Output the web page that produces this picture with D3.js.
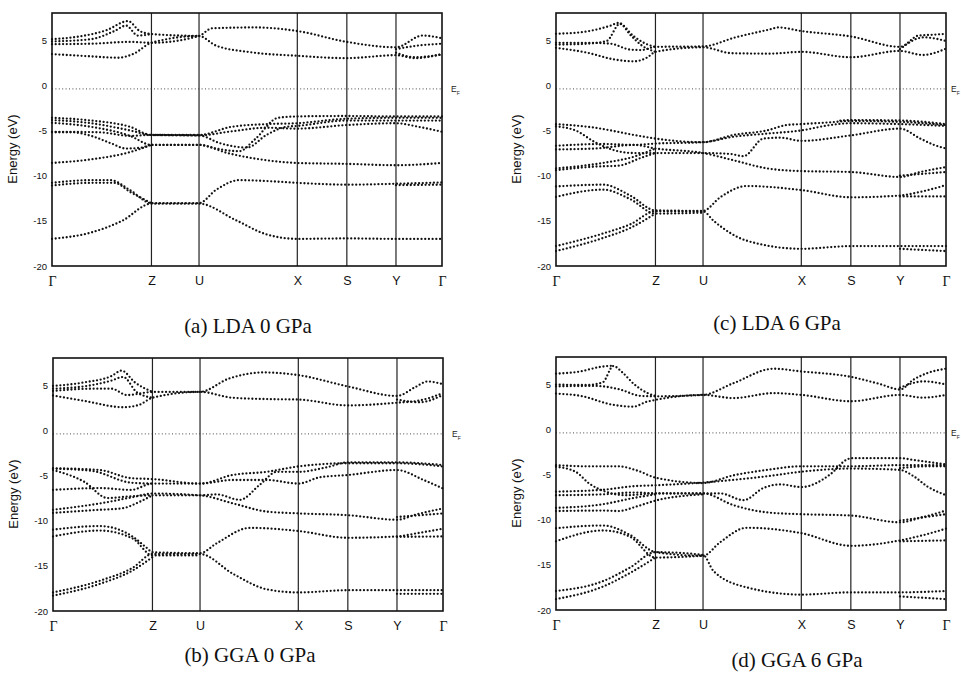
<!DOCTYPE html>
<html>
<head>
<meta charset="utf-8">
<script src="https://cdn.jsdelivr.net/npm/d3@7"></script>
<style>
body { margin: 0; background: #fff; }
svg { display: block; }
</style>
</head>
<body>
<svg id="fig" width="961" height="673"></svg>
<script>
// k-path and energy axis
let kLabels = ['Γ', 'Z', 'U', 'X', 'S', 'Y', 'Γ'];
let kPos = [0, 0.255, 0.377, 0.629, 0.756, 0.882, 1];
let energyTicks = [5, 0, -5, -10, -15, -20];
let energyRange = [-20, 8];
let fermiLevel = -0.4;
let panelTitles = ['(a) LDA 0 GPa', '(b) GGA 0 GPa', '(c) LDA 6 GPa', '(d) GGA 6 GPa'];

// bands as [k, E]
let bandsLDA0 = [
    [[0,3.45],[.08,3.25],[.17,3.05],[.21,3.5],[.255,4.7],[.377,5.45],[.42,4.4],[.51,3.65],[.629,3.26],[.756,3.0],[.882,3.33],[.93,3.0],[1,3.45]],
    [[0,4.55],[.1,4.6],[.2,4.8],[.255,4.7],[.377,5.45],[.41,6.3],[.52,6.4],[.629,6.0],[.756,4.8],[.882,4.2],[.95,5.5],[1,5.2]],
    [[0,5.1],[.07,5.4],[.14,6.1],[.195,7.1],[.225,6.0],[.255,5.67],[.377,5.45]],
    [[0,4.85],[.1,5.1],[.16,6.0],[.19,6.6],[.22,5.5],[.255,5.67]],
    [[.882,4.0],[.94,4.4],[1,4.6]],
    [[.882,3.6],[.93,3.1],[1,3.4]],
    [[0,-3.6],[.1,-3.9],[.2,-4.6],[.255,-5.5],[.377,-5.5],[.46,-4.6],[.55,-4.3],[.629,-4.2],[.756,-3.7],[.882,-3.6],[1,-3.6]],
    [[0,-3.85],[.1,-4.2],[.2,-5.0],[.255,-5.5],[.377,-5.55],[.46,-5.1],[.55,-4.7],[.629,-4.8],[.756,-4.4],[.882,-4.2],[.94,-4.6],[1,-5.15]],
    [[0,-4.15],[.1,-4.6],[.2,-5.6],[.255,-6.6],[.377,-6.6],[.42,-7.0],[.48,-7.3],[.52,-6.0],[.58,-3.6],[.629,-3.45],[.756,-3.4],[.882,-3.45],[1,-3.45]],
    [[0,-5.2],[.05,-5.2],[.1,-5.6],[.15,-6.4],[.19,-7.0],[.23,-6.9],[.255,-6.6],[.377,-6.6],[.45,-7.5],[.55,-8.3],[.629,-8.6],[.756,-8.7],[.882,-8.85],[1,-8.6]],
    [[0,-8.6],[.1,-8.2],[.2,-7.4],[.255,-6.6]],
    [[0,-5.15],[.12,-5.2],[.2,-5.6],[.255,-5.5],[.377,-5.55],[.43,-6.4],[.5,-6.9],[.55,-5.5],[.6,-4.6],[.629,-4.5],[.756,-3.9],[.882,-3.9],[1,-3.9]],
    [[0,-10.8],[.1,-10.5],[.15,-10.5],[.2,-11.6],[.255,-13.05],[.377,-13.05],[.42,-11.6],[.48,-10.5],[.55,-10.6],[.629,-10.8],[.756,-11.0],[.882,-10.9],[1,-10.75]],
    [[0,-11.1],[.1,-10.8],[.16,-10.8],[.2,-11.8],[.255,-13.05]],
    [[0,-17.0],[.1,-16.3],[.18,-15.0],[.255,-13.1],[.377,-13.1],[.47,-14.9],[.55,-16.5],[.629,-17.0],[.756,-16.95],[.882,-17.0],[1,-17.0]],
    [[.882,-11.05],[1,-11.0]]
];

let bandsGGA0 = [
    [[0,3.85],[.08,3.25],[.18,2.55],[.22,2.8],[.255,3.6],[.377,4.25],[.46,3.6],[.55,3.45],[.629,3.4],[.756,2.75],[.882,3.05],[.94,3.3],[1,4.1]],
    [[0,4.35],[.1,4.6],[.15,4.6],[.19,3.9],[.255,4.24],[.377,4.25],[.45,5.7],[.54,6.4],[.629,6.1],[.756,4.85],[.882,3.8],[.93,4.8],[.96,5.4],[1,5.1]],
    [[0,4.9],[.08,5.3],[.15,6.0],[.176,6.6],[.21,5.3],[.255,4.24]],
    [[0,4.6],[.1,5.0],[.15,5.5],[.18,5.9],[.215,4.2],[.255,3.6]],
    [[.882,3.4],[.94,3.1],[1,3.9]],
    [[0,-4.2],[.12,-4.4],[.2,-5.3],[.255,-5.4],[.377,-5.9],[.46,-4.95],[.548,-4.6],[.629,-4.0],[.756,-3.65],[.882,-3.65],[1,-4.0]],
    [[0,-4.4],[.08,-5.7],[.14,-7.5],[.2,-7.3],[.255,-7.2],[.377,-7.2],[.42,-7.1],[.479,-7.7],[.531,-6.0],[.574,-4.6],[.629,-4.6],[.702,-4.1],[.756,-3.55],[.882,-3.55],[1,-3.85]],
    [[0,-6.6],[.12,-6.4],[.2,-6.6],[.255,-5.9],[.377,-5.9],[.462,-5.5],[.548,-5.5],[.629,-5.9],[.685,-5.2],[.756,-4.95],[.882,-4.4],[.95,-5.5],[1,-6.45]],
    [[0,-8.8],[.12,-8.1],[.205,-7.4],[.255,-7.0],[.377,-7.2],[.462,-8.1],[.548,-9.0],[.629,-9.2],[.756,-9.4],[.882,-9.9],[.933,-9.3],[1,-8.65]],
    [[0,-9.15],[.12,-8.8],[.176,-8.65],[.223,-7.9],[.255,-7.2]],
    [[0,-4.25],[.1,-4.5],[.2,-5.8],[.255,-5.9]],
    [[.882,-9.6],[1,-9.2]],
    [[0,-11.0],[.12,-10.6],[.205,-11.8],[.24,-13.0],[.255,-13.5],[.377,-13.6],[.42,-12.5],[.505,-10.8],[.629,-11.15],[.756,-11.9],[.882,-11.75],[.933,-11.4],[1,-10.9]],
    [[0,-11.75],[.12,-11.1],[.205,-12.0],[.255,-13.85],[.377,-13.85]],
    [[.882,-11.8],[1,-11.75]],
    [[0,-17.95],[.12,-16.65],[.205,-15.2],[.255,-13.7],[.377,-13.7],[.462,-15.9],[.548,-17.6],[.629,-17.95],[.756,-17.7],[.882,-17.7],[1,-17.7]],
    [[0,-18.3],[.12,-17.0],[.205,-15.5],[.255,-14.05]],
    [[.882,-18.1],[1,-18.1]]
];

let bandsLDA6 = [
    [[0,4.15],[.08,3.6],[.15,2.85],[.2,2.65],[.235,3.1],[.255,3.7],[.377,4.2],[.45,3.55],[.55,3.5],[.629,3.7],[.756,3.1],[.882,3.8],[.94,3.35],[1,4.05]],
    [[0,4.7],[.08,4.7],[.14,4.6],[.19,3.95],[.22,3.9],[.255,4.25],[.377,4.3],[.46,5.3],[.55,6.2],[.57,6.4],[.629,6.0],[.756,5.4],[.882,4.25],[.93,5.5],[.97,5.6],[1,5.7]],
    [[0,5.7],[.07,5.9],[.14,6.6],[.16,6.9],[.2,5.4],[.23,4.6],[.255,4.25]],
    [[0,4.5],[.08,4.6],[.13,4.9],[.164,6.8],[.19,5.6],[.22,4.4],[.255,3.7]],
    [[.882,4.0],[.943,5.3],[1,4.9]],
    [[0,-4.3],[.1,-4.7],[.2,-5.5],[.255,-5.9],[.377,-6.3],[.455,-5.5],[.541,-5.0],[.592,-4.4],[.629,-4.3],[.703,-4.1],[.756,-3.95],[.882,-4.05],[1,-4.4]],
    [[0,-4.55],[.05,-5.0],[.1,-6.3],[.15,-7.2],[.2,-7.5],[.255,-7.5],[.377,-7.5],[.447,-7.6],[.481,-7.85],[.532,-5.9],[.575,-5.8],[.629,-6.15],[.756,-5.55],[.882,-4.8],[.934,-5.9],[.969,-6.6],[1,-7.0]],
    [[0,-6.7],[.12,-6.5],[.2,-6.6],[.255,-6.45],[.377,-6.3],[.455,-5.7],[.541,-5.35],[.629,-5.0],[.703,-4.4],[.756,-4.2],[.882,-4.3],[1,-4.5]],
    [[0,-7.1],[.1,-7.0],[.2,-6.6],[.255,-7.0],[.377,-7.5],[.455,-8.3],[.541,-9.2],[.629,-9.5],[.756,-9.6],[.882,-10.15],[.934,-9.6],[1,-9.05]],
    [[0,-9.2],[.12,-8.6],[.2,-7.9],[.255,-7.0]],
    [[0,-9.4],[.1,-9.0],[.16,-8.9],[.22,-8.0],[.255,-7.5]],
    [[.729,-3.9],[.756,-3.85],[.882,-3.9],[1,-4.3]],
    [[.882,-10.0],[1,-9.6]],
    [[0,-11.2],[.121,-11.0],[.19,-12.2],[.255,-13.85],[.377,-13.9],[.421,-12.4],[.489,-11.15],[.629,-11.6],[.756,-12.4],[.882,-12.2],[.934,-11.8],[1,-11.05]],
    [[0,-12.35],[.121,-11.55],[.19,-12.6],[.255,-14.2],[.377,-14.1]],
    [[.882,-12.3],[1,-12.3]],
    [[0,-17.8],[.121,-16.4],[.19,-15.4],[.255,-13.95],[.377,-13.95],[.404,-15.0],[.489,-17.2],[.629,-18.1],[.756,-17.8],[.882,-17.8],[1,-17.8]],
    [[0,-18.35],[.121,-16.9],[.19,-15.8],[.255,-14.2]],
    [[.882,-18.1],[1,-18.35]]
];

let bandsGGA6 = [
    [[0,3.95],[.062,3.7],[.147,2.7],[.198,2.5],[.233,3.05],[.255,3.25],[.377,3.8],[.455,3.45],[.558,4.0],[.629,3.8],[.756,3.1],[.882,3.8],[.94,3.5],[1,3.8]],
    [[0,4.75],[.1,4.8],[.164,4.4],[.216,3.7],[.255,3.65],[.377,3.8],[.455,5.1],[.558,6.7],[.629,6.4],[.756,5.8],[.831,5.0],[.882,4.4],[.917,5.5],[.951,6.2],[1,6.7]],
    [[0,6.15],[.062,6.4],[.113,6.9],[.147,7.05]],
    [[0,4.95],[.08,4.9],[.12,5.2],[.147,7.0],[.17,6.3],[.2,5.0],[.235,4.0],[.255,3.7]],
    [[.882,4.6],[.943,5.3],[1,4.95]],
    [[0,-3.97],[.08,-4.1],[.16,-4.1],[.21,-4.6],[.255,-5.35],[.377,-5.95],[.455,-5.1],[.541,-4.5],[.629,-4.1],[.756,-4.1],[.882,-3.97],[1,-3.97]],
    [[0,-4.15],[.05,-4.7],[.085,-6.0],[.13,-6.95],[.18,-7.3],[.255,-7.1],[.377,-7.1],[.421,-7.1],[.481,-7.85],[.532,-6.5],[.575,-6.1],[.629,-6.4],[.703,-5.0],[.746,-3.35],[.756,-3.2],[.882,-3.2],[.917,-3.4],[1,-3.9]],
    [[0,-6.9],[.12,-6.7],[.2,-6.3],[.255,-6.2],[.377,-5.9],[.455,-5.6],[.541,-5.2],[.629,-4.7],[.756,-4.35],[.882,-4.5],[.917,-5.2],[.951,-6.3],[1,-7.3]],
    [[0,-7.3],[.12,-7.2],[.2,-7.0],[.255,-7.1],[.377,-7.1],[.455,-8.4],[.541,-9.2],[.629,-9.4],[.756,-9.55],[.882,-10.3],[.934,-9.8],[1,-9.0]],
    [[0,-8.7],[.12,-8.3],[.2,-7.6],[.255,-7.2]],
    [[0,-9.05],[.12,-9.0],[.16,-9.05],[.21,-8.5],[.255,-7.9],[.377,-7.2]],
    [[.882,-10.1],[1,-9.4]],
    [[.882,-4.3],[.95,-4.1],[1,-4.1]],
    [[0,-10.95],[.121,-10.65],[.19,-11.7],[.255,-13.6],[.377,-14.0],[.421,-12.5],[.489,-10.9],[.629,-11.5],[.756,-12.9],[.882,-12.3],[.934,-11.8],[1,-11.0]],
    [[0,-12.4],[.121,-11.2],[.19,-11.9],[.255,-14.2],[.377,-14.0]],
    [[.882,-12.4],[1,-12.3]],
    [[0,-17.9],[.121,-16.8],[.19,-15.3],[.255,-13.6],[.377,-13.9],[.404,-15.7],[.489,-17.5],[.629,-18.3],[.756,-18.05],[.882,-18.05],[1,-17.9]],
    [[0,-18.8],[.121,-17.4],[.19,-15.9],[.255,-14.2]],
    [[.882,-18.5],[1,-18.8]]
];

// layout
let plotW = 390, plotH = 253;
let panels = [
    {bands: bandsLDA0, title: panelTitles[0], x: 52, y: 13, tx: 248, ty: 333},
    {bands: bandsGGA0, title: panelTitles[1], x: 53, y: 358, tx: 250, ty: 662},
    {bands: bandsLDA6, title: panelTitles[2], x: 556, y: 13, tx: 777, ty: 330},
    {bands: bandsGGA6, title: panelTitles[3], x: 556, y: 357, tx: 797, ty: 667}
];

let svg = d3.select('#fig');
let sans = "'Liberation Sans', Arial, sans-serif";
let serif = "'Liberation Serif', 'Times New Roman', serif";

let xScale = d3.scaleLinear().domain([0, 1]).range([0, plotW]);
let yScale = d3.scaleLinear().domain(energyRange).range([plotH, 0]);

let bandLine = d3.line()
    .x(d => xScale(d[0]))
    .y(d => yScale(d[1]))
    .curve(d3.curveMonotoneX);

panels.forEach(p => {
    let g = svg.append('g').attr('transform', `translate(${p.x},${p.y})`);

    // y axis (labels only)
    let yAxis = d3.axisLeft(yScale).tickValues(energyTicks).tickSize(0).tickPadding(5)
        .tickFormat(d => String(d));
    let ya = g.append('g').call(yAxis);
    ya.select('.domain').remove();
    ya.selectAll('text').style('font-family', sans).style('font-size', '9.5px').attr('fill', '#111');

    // x axis (k labels)
    let xAxis = d3.axisBottom(xScale).tickValues(kPos).tickSize(0).tickPadding(10)
        .tickFormat((d, i) => kLabels[i]);
    let xa = g.append('g').attr('transform', `translate(0,${plotH})`).call(xAxis);
    xa.select('.domain').remove();
    xa.selectAll('text')
        .style('font-family', (d, i) => kLabels[i] === 'Γ' ? serif : sans)
        .style('font-size', (d, i) => kLabels[i] === 'Γ' ? '14px' : '12.5px')
        .attr('fill', '#111');

    // high symmetry lines
    g.selectAll('.kline').data(kPos.slice(1, -1)).enter()
        .append('line')
        .attr('class', 'kline')
        .attr('x1', d => xScale(d)).attr('x2', d => xScale(d))
        .attr('y1', 0).attr('y2', plotH)
        .attr('stroke', '#222').attr('stroke-width', 1.2);

    // fermi level
    g.append('line')
        .attr('x1', 0).attr('x2', plotW)
        .attr('y1', yScale(fermiLevel)).attr('y2', yScale(fermiLevel))
        .attr('stroke', '#333').attr('stroke-width', 0.9)
        .attr('stroke-dasharray', '1 2.4');

    // bands
    g.selectAll('.band').data(p.bands).enter()
        .append('path')
        .attr('class', 'band')
        .attr('d', bandLine)
        .attr('fill', 'none')
        .attr('stroke', '#111')
        .attr('stroke-width', 2.3)
        .attr('stroke-linecap', 'round')
        .attr('stroke-dasharray', '0 3.7');

    // frame
    g.append('rect')
        .attr('width', plotW).attr('height', plotH)
        .attr('fill', 'none').attr('stroke', '#111').attr('stroke-width', 1.6);

    // E_F label
    let ef = g.append('text')
        .attr('x', plotW + (p.x > 500 ? 5 : 9)).attr('y', yScale(fermiLevel) + 3)
        .style('font-family', sans).style('font-size', '8.5px').attr('fill', '#222')
        .text('E');
    ef.append('tspan').attr('dy', 3).style('font-size', '5px').text('F');

    // y label
    g.append('text')
        .attr('transform', `translate(${-35},${136}) rotate(-90)`)
        .attr('text-anchor', 'middle')
        .style('font-family', sans).style('font-size', '13px').attr('fill', '#111')
        .text('Energy (eV)');

    // caption
    svg.append('text')
        .attr('x', p.tx).attr('y', p.ty)
        .attr('text-anchor', 'middle')
        .style('font-family', serif).style('font-size', '21px').attr('fill', '#111')
        .text(p.title);
});
</script>
</body>
</html>
